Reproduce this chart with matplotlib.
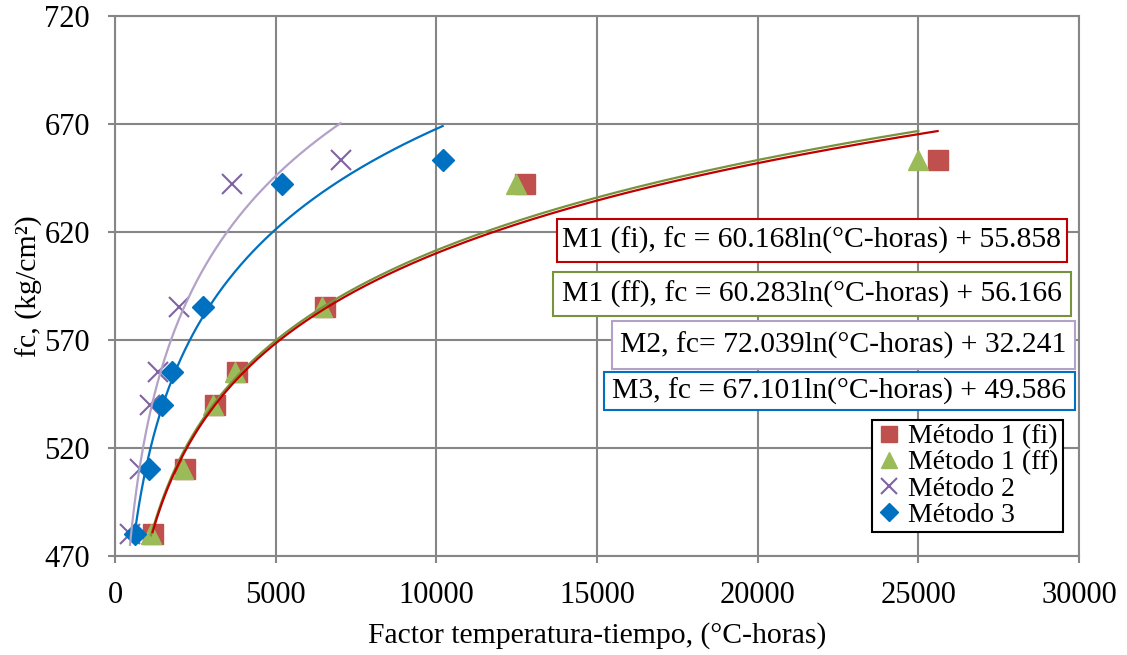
import numpy as np
import matplotlib
matplotlib.use("Agg")
import matplotlib.pyplot as plt
from matplotlib.patches import Rectangle

plt.rcParams['font.family'] = ['Liberation Serif', 'DejaVu Serif']

# resistencia (kg/cm2), igual para los cuatro metodos
fc = [480, 510, 540, 555, 585, 642, 653]

# factor temperatura-tiempo (°C-horas) de cada metodo
x_m1_fi = [1170, 2190, 3100, 3800, 6530, 12750, 25600]
x_m1_ff = [1120, 2130, 3050, 3730, 6430, 12480, 25000]
x_m2 = [467, 778, 1089, 1347, 1991, 3631, 7021]
x_m3 = [622, 1067, 1471, 1764, 2747, 5186, 10195]

# coeficientes de las lineas de tendencia logaritmicas (a*ln(x) + b)
coef_m1_fi = (60.168, 55.858)
coef_m1_ff = (60.283, 56.166)
coef_m2 = (72.039, 32.241)
coef_m3 = (67.101, 49.586)

labels = ["Método 1 (fi)", "Método 1 (ff)", "Método 2", "Método 3"]
eq_texts = [
    "M1 (fi), fc = 60.168ln(°C-horas) + 55.858",
    "M1 (ff), fc = 60.283ln(°C-horas) + 56.166",
    "M2, fc= 72.039ln(°C-horas) + 32.241",
    "M3, fc = 67.101ln(°C-horas) + 49.586",
]

W, H = 1127, 655
fig = plt.figure(figsize=(W / 100, H / 100), dpi=100)
ax = fig.add_axes([115 / W, 1 - 555.7 / H, (1079 - 115) / W, (555.7 - 15.7) / H])

grid_c = '#868686'

# puntos
ax.plot(x_m1_fi, fc, 's', color='#C0504D', ms=14, mec='#C0504D', label=labels[0], zorder=3)
ax.plot(x_m1_ff, fc, '^', color='#9BBB59', ms=15, mec='#9BBB59', label=labels[1], zorder=4)
ax.plot(x_m2, fc, 'x', color='#8064A2', ms=14, mew=1.5, label=labels[2], zorder=3)
ax.plot(x_m3, fc, 'D', color='#0070C0', ms=11, mec='#0070C0', label=labels[3], zorder=4)

# lineas de tendencia
def trend(xs, coef, color, z):
    xx = np.linspace(min(xs), max(xs), 300)
    ax.plot(xx, coef[0] * np.log(xx) + coef[1], color=color, lw=1.6, zorder=z)

trend(x_m1_ff, coef_m1_ff, '#77933C', 5)
trend(x_m1_fi, coef_m1_fi, '#C00000', 6)
trend(x_m2, coef_m2, '#B3A2C7', 5)
trend(x_m3, coef_m3, '#0070C0', 5)

ax.set_xlim(0, 30000)
ax.set_ylim(470, 720)
ax.set_xticks(np.arange(0, 30001, 5000))
ax.set_yticks(np.arange(470, 721, 50))
ax.grid(True, color=grid_c, lw=1.5)
ax.set_axisbelow(True)
for s in ax.spines.values():
    s.set_color(grid_c)
    s.set_linewidth(1.5)
ax.tick_params(direction='out', length=5, width=1.5, color=grid_c, labelsize=22)
ax.tick_params(axis='y', pad=13)
ax.tick_params(axis='x', pad=13)

ax.set_xlabel("Factor temperatura-tiempo, (°C-horas)", fontsize=21.3, labelpad=9)
ax.set_ylabel("fc, (kg/cm²)", fontsize=21.5, labelpad=1)

# cuadros con las ecuaciones (pixeles de la figura)
boxes = [
    (557, 219, 1067, 262, '#C00000'),
    (553, 272, 1071, 316, '#77933C'),
    (612, 321, 1075, 369, '#B3A2C7'),
    (604, 372, 1075, 410, '#0070C0'),
]
for (x0, y0, x1, y1, col), txt in zip(boxes, eq_texts):
    fig.patches.append(Rectangle((x0 / W, 1 - y1 / H), (x1 - x0) / W, (y1 - y0) / H,
                                 transform=fig.transFigure, fc='white', ec=col, lw=1.5, zorder=10))
    fig.text((x0 + x1) / 2 / W, 1 - (y0 + y1) / 2 / H, txt, ha='center', va='center',
             fontsize=21.3, zorder=11)

leg = ax.legend(loc='upper right', bbox_to_anchor=(1063 / W, 1 - 420 / H),
                bbox_transform=fig.transFigure, fontsize=20, frameon=True, fancybox=False,
                edgecolor='black', framealpha=1, borderpad=0.15, labelspacing=0.02,
                handlelength=0.9, handletextpad=0.25, borderaxespad=0, markerscale=0.8)
leg.get_frame().set_linewidth(1.5)
leg.set_zorder(12)

fig.savefig("out.png", dpi=100)
